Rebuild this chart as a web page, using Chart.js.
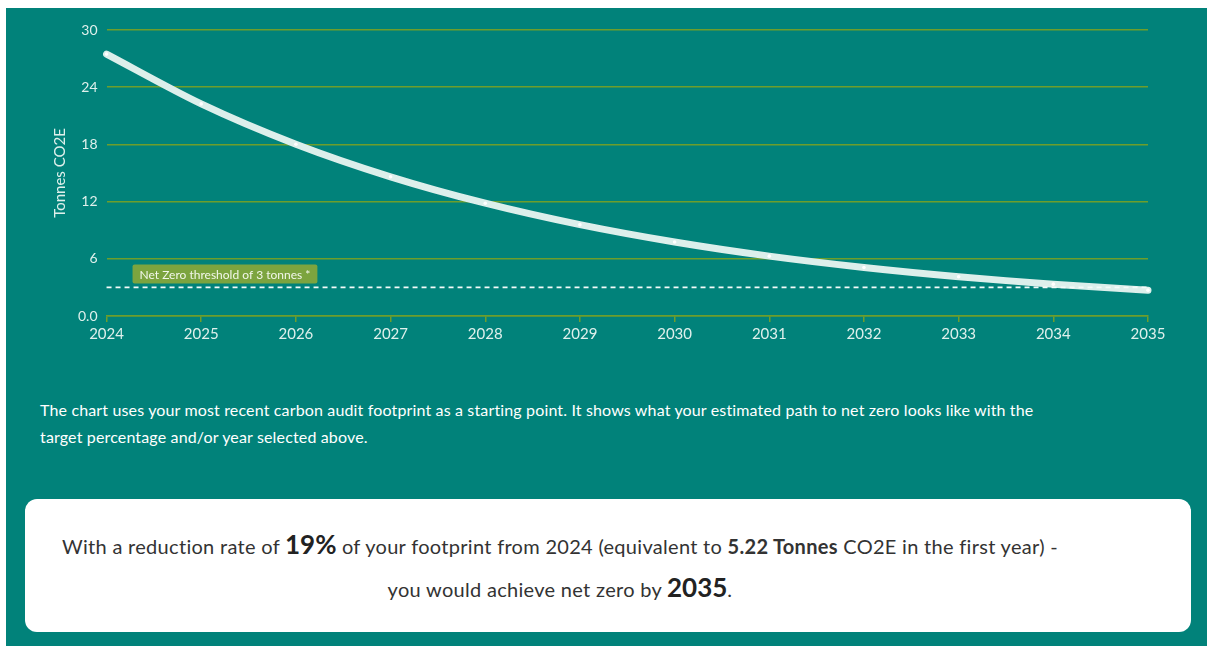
<!DOCTYPE html>
<html>
<head>
<meta charset="utf-8">
<script src="https://cdn.jsdelivr.net/npm/chart.js@4"></script>
<style>
  html, body { margin: 0; padding: 0; background: #ffffff; }
  body { width: 1207px; height: 646px; position: relative; overflow: hidden; font-family: Lato, sans-serif; }
  .panel { position: absolute; left: 6px; top: 8px; width: 1201px; height: 638px; background: #01827a; }
  .chart-wrap { position: absolute; left: 0; top: 0; width: 1201px; height: 350px; }
  .note { position: absolute; left: 34px; top: 388px; width: 1022px; color: #ffffff; font-size: 16px; letter-spacing: 0.15px; line-height: 27px; }
  .result { position: absolute; left: 19px; top: 491px; width: 1166px; height: 133px; background: #ffffff; border-radius: 12px; }
  .result-text { position: absolute; left: 0; top: 25px; width: 1070px; text-align: center; color: #333333; font-size: 20px; letter-spacing: 0.3px; line-height: 41px; }
  .result-text .big { font-size: 26px; font-weight: bold; color: #222; letter-spacing: 0; }
  .result-text b { font-weight: bold; }
</style>
</head>
<body>
<div class="panel">
  <div class="chart-wrap"><canvas id="pathChart"></canvas></div>
  <div class="note">The chart uses your most recent carbon audit footprint as a starting point. It shows what your estimated path to net zero looks like with the target percentage and/or year selected above.</div>
  <div class="result">
    <div class="result-text">
      With a reduction rate of <span class="big">19%</span> of your footprint from 2024 (equivalent to <b>5.22 Tonnes</b> CO2E in the first year) -<br>
      you would achieve net zero by <span class="big">2035</span>.
    </div>
  </div>
</div>
<script>
// Data
const years = ['2024', '2025', '2026', '2027', '2028', '2029', '2030', '2031', '2032', '2033', '2034', '2035'];
const footprint = [27.47, 22.25, 18.02, 14.6, 11.83, 9.58, 7.76, 6.28, 5.09, 4.12, 3.34, 2.71];
const threshold = [3, 3, 3, 3, 3, 3, 3, 3, 3, 3, 3, 3];
const thresholdLabel = 'Net Zero threshold of 3 tonnes *';
const yTicks = [0, 6, 12, 18, 24, 30];

const tickColor = '#dff0ec';
const gridColor = '#6e9e2c';

/**
 * Draws the threshold label box above the dashed line
 */
const thresholdLabelPlugin = {
    id: 'thresholdLabel',
    afterDatasetsDraw(chart) {
        const ctx = chart.ctx;
        const x = chart.scales.x.getPixelForValue(0) + 26;
        const y = chart.scales.y.getPixelForValue(threshold[0]);
        ctx.save();
        ctx.font = '12px Lato, sans-serif';
        const w = ctx.measureText(thresholdLabel).width + 14;
        const h = 19;
        ctx.fillStyle = '#7ca43f';
        ctx.beginPath();
        ctx.roundRect(x, y - h - 4, w, h, 2);
        ctx.fill();
        ctx.fillStyle = '#f2f7ea';
        ctx.textBaseline = 'middle';
        ctx.fillText(thresholdLabel, x + 7, y - 4 - h / 2 + 1);
        ctx.restore();
    }
};

new Chart(document.getElementById('pathChart'), {
    type: 'line',
    data: {
        labels: years,
        datasets: [
            {
                label: 'Threshold',
                data: threshold,
                borderColor: '#f4fbf9',
                borderWidth: 1.6,
                borderDash: [5, 4],
                pointRadius: 0,
                order: 0
            },
            {
                label: 'Footprint',
                data: footprint,
                borderColor: '#dcefeb',
                borderWidth: 7,
                borderCapStyle: 'round',
                tension: 0.3,
                pointRadius: 1.8,
                pointBackgroundColor: '#ffffff',
                pointBorderWidth: 0,
                order: 1
            }
        ]
    },
    options: {
        responsive: true,
        maintainAspectRatio: false,
        animation: false,
        layout: { padding: { left: 45, right: 59, top: 22, bottom: 12 } },
        plugins: {
            legend: { display: false },
            tooltip: { enabled: false }
        },
        scales: {
            x: {
                offset: false,
                grid: { drawOnChartArea: false, drawTicks: true, tickLength: 6, color: gridColor, lineWidth: 1.5 },
                border: { display: true, color: gridColor, width: 1.5 },
                ticks: { color: tickColor, font: { family: 'Lato', size: 15 }, padding: 3, maxRotation: 0 }
            },
            y: {
                min: 0,
                max: 30,
                afterBuildTicks(axis) {
                    axis.ticks = yTicks.map(v => ({ value: v }));
                },
                grid: { color: gridColor, drawTicks: false, lineWidth: 1.5 },
                border: { display: false },
                ticks: {
                    color: tickColor,
                    font: { family: 'Lato', size: 14 },
                    padding: 9,
                    callback: v => v === 0 ? '0.0' : v
                },
                title: {
                    display: true,
                    text: 'Tonnes CO2E',
                    color: tickColor,
                    font: { family: 'Lato', size: 15 },
                    padding: { top: 0, bottom: 0 }
                }
            }
        }
    },
    plugins: [thresholdLabelPlugin]
});
</script>
</body>
</html>
